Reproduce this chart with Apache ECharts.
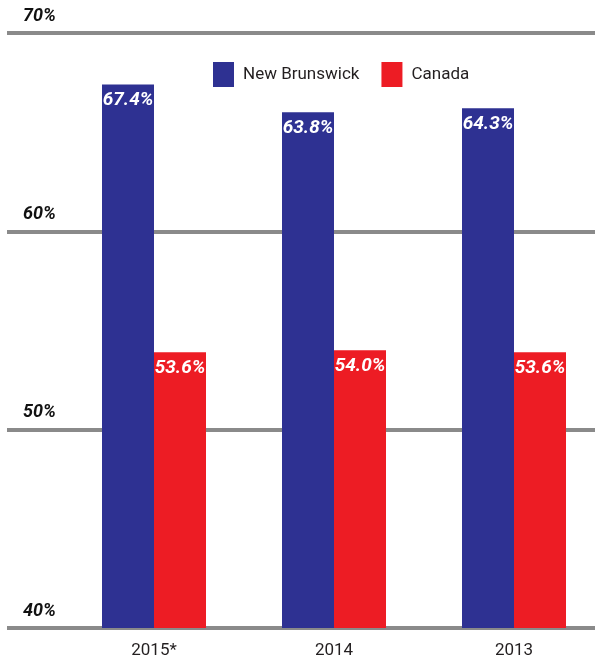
<!DOCTYPE html>
<html><head><meta charset="utf-8">
<script src="https://cdn.jsdelivr.net/npm/echarts@6/dist/echarts.min.js"></script>
<style>html,body{margin:0;padding:0;background:#fff}#c{width:595px;height:662px}</style>
</head><body><div id="c"></div>
<script>
const categories = ['2015*', '2014', '2013'];
// bar heights as drawn in the picture
const newBrunswick = [67.4, 66.0, 66.2];
const canada = [53.9, 54.0, 53.9];
// value labels as printed on the bars
const newBrunswickLabels = ['67.4%', '63.8%', '64.3%'];
const canadaLabels = ['53.6%', '54.0%', '53.6%'];
const yTicks = [40, 50, 60, 70];

const FONT = 'Roboto, "Liberation Sans", sans-serif';
const chart = echarts.init(document.getElementById('c'));
chart.setOption({
  animation: false,
  backgroundColor: '#fff',
  legend: {
    left: 213, top: 62, padding: 0,
    itemWidth: 21, itemHeight: 25, itemGap: 22,
    icon: 'rect',
    textStyle: { fontFamily: FONT, fontSize: 17, color: '#231f20', padding: [0, 0, 0, 4] },
    data: ['New Brunswick', 'Canada']
  },
  grid: [
    { left: 7, right: 0, top: 33, bottom: 34, outerBoundsMode: 'none', containLabel: false },
    { left: 64, width: 540, top: 33, bottom: 34, outerBoundsMode: 'none', containLabel: false }
  ],
  xAxis: [
    { gridIndex: 0, type: 'value', show: false, min: 0, max: 1 },
    { gridIndex: 1, type: 'category', data: categories,
      axisLine: { show: false }, axisTick: { show: false },
      axisLabel: { fontFamily: FONT, fontSize: 17, color: '#231f20', margin: 14 } }
  ],
  yAxis: [
    { gridIndex: 0, type: 'value', min: 40, max: 70, interval: 10,
      axisLine: { show: false }, axisTick: { show: false },
      splitLine: { lineStyle: { color: '#8a8a8a', width: 4 } },
      axisLabel: { inside: true, margin: 16, align: 'left', verticalAlign: 'bottom',
        padding: [0, 0, 8, 0],
        fontFamily: FONT, fontSize: 18, fontWeight: 'bold', fontStyle: 'italic', color: '#111',
        formatter: v => yTicks.includes(v) ? v + '%' : '' } },
    { gridIndex: 1, type: 'value', min: 40, max: 70, interval: 10, show: false, splitLine: { show: false } }
  ],
  series: [
    { name: 'New Brunswick', type: 'bar', xAxisIndex: 1, yAxisIndex: 1, data: newBrunswick,
      barWidth: 52, barGap: '0%', itemStyle: { color: '#2e3192' },
      label: { show: true, position: 'insideTop', distance: 6, formatter: p => newBrunswickLabels[p.dataIndex],
        fontFamily: FONT, fontSize: 19, fontWeight: 'bold', fontStyle: 'italic', color: '#fff' } },
    { name: 'Canada', type: 'bar', xAxisIndex: 1, yAxisIndex: 1, data: canada,
      barWidth: 52, barGap: '0%', itemStyle: { color: '#ed1c24' },
      label: { show: true, position: 'insideTop', distance: 6, formatter: p => canadaLabels[p.dataIndex],
        fontFamily: FONT, fontSize: 19, fontWeight: 'bold', fontStyle: 'italic', color: '#fff' } }
  ]
});
</script></body></html>
